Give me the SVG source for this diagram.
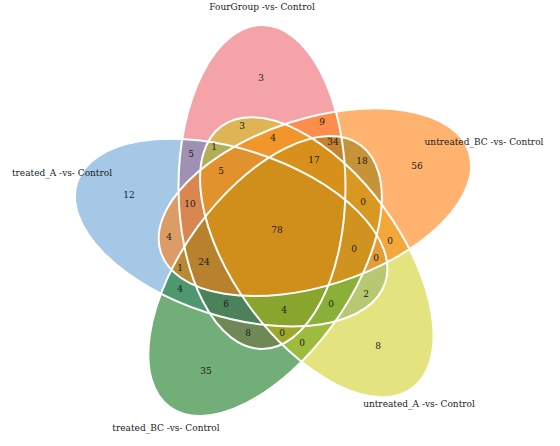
<svg xmlns="http://www.w3.org/2000/svg" width="560" height="446" viewBox="0 0 560 446">
<style>
.lab{font-family:"DejaVu Serif","Liberation Serif",serif;font-size:9px;fill:#1a1a1a;text-anchor:middle}
.num{font-family:"DejaVu Serif","Liberation Serif",serif;font-size:9px;fill:#1a1a1a;text-anchor:middle}
.edge{fill:none;stroke:#ffffff;stroke-width:2}
</style>
<rect width="560" height="446" fill="#ffffff"/>
<g id="fills">
<ellipse id="fill-fourgroup" cx="262" cy="187" rx="162" ry="83.5" transform="rotate(-90 262 187)" fill="rgb(227,25,37)" fill-opacity="0.4"/>
<ellipse id="fill-treatedA" cx="231.2" cy="232.6" rx="162" ry="83.5" transform="rotate(198 231.2 232.6)" fill="rgb(33,118,195)" fill-opacity="0.4"/>
<ellipse id="fill-treatedBC" cx="265.1" cy="276" rx="162" ry="83.5" transform="rotate(126 265.1 276)" fill="rgb(20,120,30)" fill-opacity="0.6"/>
<ellipse id="fill-untreatedA" cx="316.8" cy="257.2" rx="162" ry="83.5" transform="rotate(54 316.8 257.2)" fill="rgb(200,200,0)" fill-opacity="0.5"/>
<ellipse id="fill-untreatedBC" cx="314.9" cy="202.2" rx="162" ry="83.5" transform="rotate(-18 314.9 202.2)" fill="rgb(255,128,15)" fill-opacity="0.6"/>
</g>
<g id="outlines">
<ellipse class="edge" cx="262" cy="187" rx="162" ry="83.5" transform="rotate(-90 262 187)"/>
<ellipse class="edge" cx="231.2" cy="232.6" rx="162" ry="83.5" transform="rotate(198 231.2 232.6)"/>
<ellipse class="edge" cx="265.1" cy="276" rx="162" ry="83.5" transform="rotate(126 265.1 276)"/>
<ellipse class="edge" cx="316.8" cy="257.2" rx="162" ry="83.5" transform="rotate(54 316.8 257.2)"/>
<ellipse class="edge" cx="314.9" cy="202.2" rx="162" ry="83.5" transform="rotate(-18 314.9 202.2)"/>
</g>
<g id="set-names">
<text id="name-fourgroup" class="lab" x="262" y="10">FourGroup -vs- Control</text>
<text id="name-untreatedBC" class="lab" x="484" y="145">untreated_BC -vs- Control</text>
<text id="name-untreatedA" class="lab" x="419" y="407">untreated_A -vs- Control</text>
<text id="name-treatedBC" class="lab" x="166" y="431">treated_BC -vs- Control</text>
<text id="name-treatedA" class="lab" x="62" y="176">treated_A -vs- Control</text>
</g>
<g id="counts">
<text class="num" x="261" y="81">3</text>
<text class="num" x="242" y="129">3</text>
<text class="num" x="322" y="125">9</text>
<text class="num" x="273" y="141">4</text>
<text class="num" x="333" y="145">34</text>
<text class="num" x="214" y="150">1</text>
<text class="num" x="191" y="157">5</text>
<text class="num" x="221" y="174">5</text>
<text class="num" x="314" y="163">17</text>
<text class="num" x="362" y="164">18</text>
<text class="num" x="363" y="205">0</text>
<text class="num" x="190" y="207">10</text>
<text class="num" x="129" y="198">12</text>
<text class="num" x="417" y="169">56</text>
<text class="num" x="277" y="233">78</text>
<text class="num" x="169" y="240">4</text>
<text class="num" x="354" y="252">0</text>
<text class="num" x="390" y="244">0</text>
<text class="num" x="376" y="261">0</text>
<text class="num" x="204" y="265">24</text>
<text class="num" x="180" y="271">1</text>
<text class="num" x="180" y="292">4</text>
<text class="num" x="366" y="297">2</text>
<text class="num" x="226" y="307">6</text>
<text class="num" x="284" y="313">4</text>
<text class="num" x="331" y="307">0</text>
<text class="num" x="248" y="336">8</text>
<text class="num" x="282" y="336">0</text>
<text class="num" x="302" y="346">0</text>
<text class="num" x="378" y="349">8</text>
<text class="num" x="206" y="374">35</text>
</g>
</svg>
